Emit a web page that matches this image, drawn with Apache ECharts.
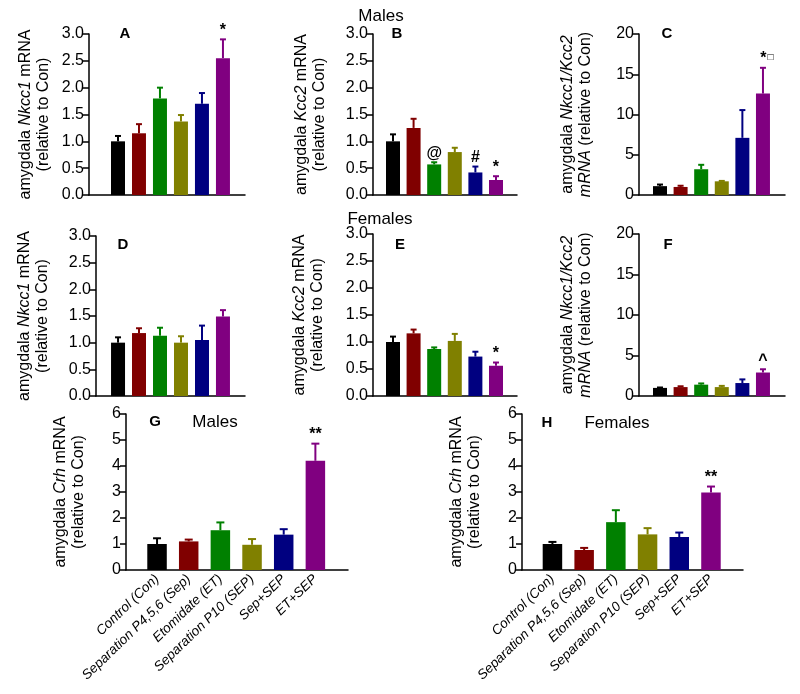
<!DOCTYPE html>
<html>
<head>
<meta charset="utf-8">
<title>amygdala mRNA panels</title>
<script src="https://cdn.jsdelivr.net/npm/echarts@6/dist/echarts.min.js"></script>
<style>html,body{margin:0;background:#fff}</style>
</head>
<body>
<div id="main" style="width:800px;height:694px;"></div>
<script>
// groups and colours
var groups = ['Control (Con)', 'Separation P4,5,6 (Sep)', 'Etomidate (ET)', 'Separation P10 (SEP)', 'Sep+SEP', 'ET+SEP'];
var barColors = ['#000000', '#800000', '#008000', '#808000', '#000080', '#800080'];

// A - males Nkcc1
var aMean = [1.0, 1.15, 1.8, 1.37, 1.7, 2.55];
var aErr = [0.1, 0.17, 0.2, 0.12, 0.2, 0.35];
var aMark = ['', '', '', '', '', '*'];
// B - males Kcc2
var bMean = [1.0, 1.25, 0.57, 0.8, 0.42, 0.28];
var bErr = [0.13, 0.17, 0.04, 0.08, 0.11, 0.07];
var bMark = ['', '', '@', '', '#', '*'];
// C - males Nkcc1/Kcc2
var cMean = [1.1, 1.0, 3.2, 1.7, 7.1, 12.6];
var cErr = [0.2, 0.15, 0.55, 0.05, 3.45, 3.2];
var cMark = ['', '', '', '', '', '*\u25a1'];
// D - females Nkcc1
var dMean = [1.0, 1.18, 1.13, 1.0, 1.05, 1.49];
var dErr = [0.1, 0.09, 0.15, 0.12, 0.27, 0.12];
var dMark = ['', '', '', '', '', ''];
// E - females Kcc2
var eMean = [1.0, 1.16, 0.87, 1.02, 0.73, 0.56];
var eErr = [0.1, 0.07, 0.03, 0.13, 0.09, 0.06];
var eMark = ['', '', '', '', '', '*'];
// F - females Nkcc1/Kcc2
var fMean = [1.0, 1.1, 1.4, 1.1, 1.6, 2.9];
var fErr = [0.05, 0.1, 0.15, 0.15, 0.45, 0.4];
var fMark = ['', '', '', '', '', '^'];
// G - males Crh
var gMean = [1.0, 1.1, 1.53, 0.97, 1.36, 4.2];
var gErr = [0.22, 0.07, 0.3, 0.22, 0.21, 0.66];
var gMark = ['', '', '', '', '', '**'];
// H - females Crh
var hMean = [1.0, 0.77, 1.84, 1.37, 1.27, 2.98];
var hErr = [0.08, 0.08, 0.46, 0.24, 0.17, 0.23];
var hMark = ['', '', '', '', '', '**'];

var FONT = 'Liberation Sans';

var nameNkcc1 = '{n|amygdala }{i|Nkcc1}{n| mRNA}\n{n|(relative to Con)}';
var nameKcc2 = '{n|amygdala }{i|Kcc2}{n| mRNA}\n{n|(relative to Con)}';
var nameRatio = '{n|amygdala }{i|Nkcc1/Kcc2}\n{i|mRNA}{n| (relative to Con)}';
var nameCrh = '{n|amygdala }{i|Crh}{n| mRNA}\n{n|(relative to Con)}';

// panel layout (pixels) and axis settings
var panels = [
  { mean: aMean, err: aErr, mark: aMark, name: nameNkcc1, left: 89, top: 34, width: 156, height: 161, xmin: -1.38, xmax: 6.05, ymax: 3, step: 0.5, dec: 1, bw: 14, gap: 36 },
  { mean: bMean, err: bErr, mark: bMark, name: nameKcc2, left: 373, top: 34, width: 144, height: 161, xmin: -0.97, xmax: 6.02, ymax: 3, step: 0.5, dec: 1, bw: 14, gap: 44 },
  { mean: cMean, err: cErr, mark: cMark, name: nameRatio, left: 639, top: 34, width: 146, height: 161, xmin: -1.02, xmax: 6.07, ymax: 20, step: 5, dec: 0, bw: 14, gap: 44 },
  { mean: dMean, err: dErr, mark: dMark, name: nameNkcc1, left: 96, top: 236, width: 149, height: 160, xmin: -1.05, xmax: 6.05, ymax: 3, step: 0.5, dec: 1, bw: 14, gap: 44 },
  { mean: eMean, err: eErr, mark: eMark, name: nameKcc2, left: 373, top: 234, width: 144, height: 162, xmin: -0.97, xmax: 6.02, ymax: 3, step: 0.5, dec: 1, bw: 14, gap: 46 },
  { mean: fMean, err: fErr, mark: fMark, name: nameRatio, left: 639, top: 234, width: 146, height: 162, xmin: -1.02, xmax: 6.07, ymax: 20, step: 5, dec: 0, bw: 14, gap: 44 },
  { mean: gMean, err: gErr, mark: gMark, name: nameCrh, left: 126, top: 414, width: 222, height: 156, xmin: -0.98, xmax: 6.03, ymax: 6, step: 1, dec: 0, bw: 19.5, gap: 38, labels: true },
  { mean: hMean, err: hErr, mark: hMark, name: nameCrh, left: 522, top: 414, width: 221, height: 156, xmin: -0.96, xmax: 6.01, ymax: 6, step: 1, dec: 0, bw: 19.5, gap: 38, labels: true }
];

function makeErrRender(capHalf, marks) {
  return function (params, api) {
    var x = api.value(0), v = api.value(1), e = api.value(2);
    var mark = marks[params.dataIndex];
    var p0 = api.coord([x, v]);
    var p1 = api.coord([x, v + e]);
    var color = barColors[x];
    var children = [
      { type: 'line', shape: { x1: p0[0], y1: p0[1], x2: p1[0], y2: p1[1] }, style: { stroke: color, lineWidth: 2 } },
      { type: 'line', shape: { x1: p1[0] - capHalf, y1: p1[1], x2: p1[0] + capHalf, y2: p1[1] }, style: { stroke: color, lineWidth: 2 } }
    ];
    if (mark) {
      // small open square after the asterisk
      var rich = mark.replace('\u25a1', '{s|\u25a1}');
      children.push({
        type: 'text',
        style: {
          text: rich, x: p1[0] + (rich !== mark ? 4 : 0), y: p1[1] - 1, align: 'center', verticalAlign: 'bottom',
          fontSize: 16, fontWeight: 'bold', fontFamily: FONT, fill: '#000',
          rich: { s: { fontSize: 10, fontWeight: 'normal', fontFamily: FONT, fill: '#000', padding: [0, 0, 4, 1] } }
        }
      });
    }
    return { type: 'group', children: children };
  };
}

var grids = [], xAxes = [], yAxes = [], series = [];
panels.forEach(function (p, k) {
  grids.push({ left: p.left, top: p.top, width: p.width, height: p.height, containLabel: false });
  xAxes.push({
    type: 'value', gridIndex: k, min: p.xmin, max: p.xmax,
    splitLine: { show: false },
    axisLine: { show: true, onZero: false, lineStyle: { color: '#000', width: 1.5 } },
    axisTick: { show: false },
    axisLabel: p.labels ? {
      show: true, customValues: [0, 1, 2, 3, 4, 5], rotate: 44, margin: 7,
      fontSize: 13.5, fontStyle: 'italic', fontFamily: FONT, color: '#000',
      formatter: function (v) { return groups[Math.round(v)]; }
    } : { show: false }
  });
  yAxes.push({
    type: 'value', gridIndex: k, min: 0, max: p.ymax, interval: p.step,
    splitLine: { show: false },
    axisLine: { show: true, onZero: false, lineStyle: { color: '#000', width: 1.5 } },
    axisTick: { show: true, length: 6, lineStyle: { color: '#000', width: 1.5 } },
    axisLabel: { fontSize: 16, fontFamily: FONT, color: '#000', margin: 5,
      formatter: (function (d) { return function (v) { return v.toFixed(d); }; })(p.dec) },
    name: p.name, nameLocation: 'middle', nameGap: p.gap, nameRotate: 90,
    nameTextStyle: {
      color: '#000', fontFamily: FONT, fontSize: 16,
      rich: {
        n: { fontFamily: FONT, fontSize: 16, lineHeight: 18, color: '#000' },
        i: { fontFamily: FONT, fontSize: 16, lineHeight: 18, fontStyle: 'italic', color: '#000' }
      }
    }
  });
  series.push({
    type: 'bar', xAxisIndex: k, yAxisIndex: k, barWidth: p.bw,
    data: p.mean.map(function (m, i) { return { value: [i, m], itemStyle: { color: barColors[i] } }; })
  });
  series.push({
    type: 'custom', xAxisIndex: k, yAxisIndex: k,
    renderItem: makeErrRender(p.bw > 15 ? 4 : 3, p.mark),
    encode: { x: 0, y: 1 },
    data: p.mean.map(function (m, i) { return [i, m, p.err[i]]; }),
    z: 3
  });
});

function txt(s, x, y, size, bold) {
  return { type: 'text', x: x, y: y, style: { text: s, align: 'center', verticalAlign: 'middle', fontSize: size, fontWeight: bold ? 'bold' : 'normal', fontFamily: FONT, fill: '#000' } };
}

var chart = echarts.init(document.getElementById('main'));
chart.setOption({
  animation: false,
  backgroundColor: '#fff',
  grid: grids,
  xAxis: xAxes,
  yAxis: yAxes,
  series: series,
  graphic: [
    txt('Males', 381, 16, 17, false),
    txt('Females', 380, 219, 17, false),
    txt('A', 125, 34, 15, true),
    txt('B', 397, 34, 15, true),
    txt('C', 667, 34, 15, true),
    txt('D', 123, 245, 15, true),
    txt('E', 400, 245, 15, true),
    txt('F', 668, 245, 15, true),
    txt('G', 155, 422, 15, true),
    txt('Males', 215, 422, 17, false),
    txt('H', 547, 423, 15, true),
    txt('Females', 617, 423, 17, false)
  ]
});
</script>
</body>
</html>
